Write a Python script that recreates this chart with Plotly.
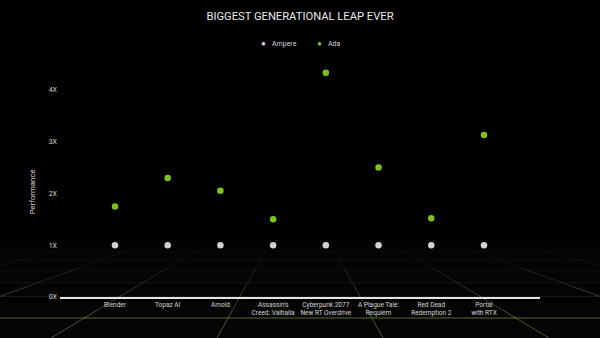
import plotly.graph_objects as go

# Benchmark data: relative performance, Ampere baseline = 1X
games = [
    "Blender",
    "Topaz AI",
    "Arnold",
    "Assassin's<br>Creed: Valhalla",
    "Cyberpunk 2077<br>New RT Overdrive",
    "A Plague Tale:<br>Requiem",
    "Red Dead<br>Redemption 2",
    "Portal<br>with RTX",
]
ampere = [1, 1, 1, 1, 1, 1, 1, 1]
ada = [1.75, 2.30, 2.05, 1.50, 4.33, 2.50, 1.52, 3.13]
y_tickvals = [0, 1, 2, 3, 4]
y_ticktext = ["0X", "1X", "2X", "3X", "4X"]

W, H = 600, 338
M_L, M_R, M_T, M_B = 60, 60, 64, 41
PLOT_W = W - M_L - M_R
PLOT_H = H - M_T - M_B

GREEN = "#7dc21e"
GRAY = "#d2d2d2"
TEXT = "#d4d4d4"
FONT = "Roboto"


def px(x):
    """Canvas pixel x -> paper x."""
    return (x - M_L) / PLOT_W


def py(y):
    """Canvas pixel y -> paper y."""
    return (H - M_B - y) / PLOT_H


idx = list(range(len(games)))

fig = go.Figure()
fig.add_trace(go.Scatter(
    x=idx, y=ampere, mode="markers", name="Ampere",
    marker=dict(color=GRAY, size=6.5, line=dict(width=0)),
))
fig.add_trace(go.Scatter(
    x=idx, y=ada, mode="markers", name="Ada",
    marker=dict(color=GREEN, size=6.5, line=dict(width=0)),
))

shapes = []

# faint floor glow, stacked so it has no hard edge
for y_top, a in [(236, 0.008), (246, 0.008), (258, 0.008)]:
    shapes.append(dict(type="rect", xref="paper", yref="paper",
                       x0=px(0), x1=px(W), y0=py(y_top), y1=py(H),
                       fillcolor=f"rgba(255,255,255,{a})", line=dict(width=0),
                       layer="below"))

# perspective floor: horizontal rules
for yy, col in [(252, "rgba(255,255,255,0.03)"),
                (260, "rgba(255,255,255,0.045)"),
                (270.7, "rgba(255,255,255,0.055)"),
                (282.7, "rgba(255,255,255,0.065)"),
                (296.5, "rgba(255,255,255,0.08)"),
                (318, "rgba(120,140,45,0.75)")]:
    shapes.append(dict(type="line", xref="paper", yref="paper",
                       x0=px(0), x1=px(W), y0=py(yy), y1=py(yy),
                       line=dict(color=col, width=1), layer="below"))

# perspective floor: rays toward a vanishing point, fading with distance
VP_X, VP_Y = 300, 188
BOTTOM = 338
for off in [83, 249, 415, 581]:
    for sign in (-1, 1):
        xb = VP_X + sign * off
        steps = [(250, 268, 0.07), (268, 286, 0.18), (286, 310, 0.32), (310, 338, 0.45)]
        for y0, y1, a in steps:
            t0 = (y0 - VP_Y) / (BOTTOM - VP_Y)
            t1 = (y1 - VP_Y) / (BOTTOM - VP_Y)
            x0 = VP_X + (xb - VP_X) * t0
            x1 = VP_X + (xb - VP_X) * t1
            shapes.append(dict(type="line", xref="paper", yref="paper",
                               x0=px(x0), x1=px(x1), y0=py(y0), y1=py(y1),
                               line=dict(color=f"rgba(160,185,110,{a})", width=1),
                               layer="below"))

annotations = [
    # y-axis title
    dict(text="Performance", xref="paper", yref="paper",
         x=px(32), y=py(192.5), textangle=-90, showarrow=False,
         font=dict(family=FONT, size=7.8, color=TEXT),
         xanchor="center", yanchor="middle"),
    # legend
    dict(text="●", xref="paper", yref="paper", x=px(263), y=py(43.5),
         showarrow=False, font=dict(family=FONT, size=8, color=GRAY),
         xanchor="center", yanchor="middle"),
    dict(text="Ampere", xref="paper", yref="paper", x=px(270), y=py(43.5),
         showarrow=False, font=dict(family=FONT, size=7, color=TEXT),
         xanchor="left", yanchor="middle"),
    dict(text="●", xref="paper", yref="paper", x=px(319.6), y=py(43.5),
         showarrow=False, font=dict(family=FONT, size=8, color=GREEN),
         xanchor="center", yanchor="middle"),
    dict(text="Ada", xref="paper", yref="paper", x=px(326), y=py(43.5),
         showarrow=False, font=dict(family=FONT, size=7, color=TEXT),
         xanchor="left", yanchor="middle"),
]

fig.update_layout(
    width=W, height=H,
    margin=dict(l=M_L, r=M_R, t=M_T, b=M_B, pad=0),
    paper_bgcolor="#000000",
    plot_bgcolor="rgba(0,0,0,0)",
    showlegend=False,
    title=dict(text="BIGGEST GENERATIONAL LEAP EVER",
               x=0.5, xref="container", xanchor="center",
               y=1 - 15.8 / H, yref="container", yanchor="middle",
               font=dict(family=FONT, size=11.2, color="#e8e8e8")),
    xaxis=dict(range=[-1.043, 8.063], tickvals=idx, ticktext=games,
               showgrid=False, zeroline=False, ticks="",
               showline=True, linecolor="#e4e4e4", linewidth=1.5,
               tickfont=dict(family=FONT, size=6.5, color=TEXT),
               fixedrange=True),
    yaxis=dict(range=[0, 4.5], tickvals=y_tickvals, ticktext=y_ticktext,
               showgrid=False, zeroline=False, showline=False, ticks="",
               ticklabelstandoff=2,
               tickfont=dict(family=FONT, size=7, color=TEXT),
               fixedrange=True),
    shapes=shapes,
    annotations=annotations,
)

fig.write_html("out.html")
